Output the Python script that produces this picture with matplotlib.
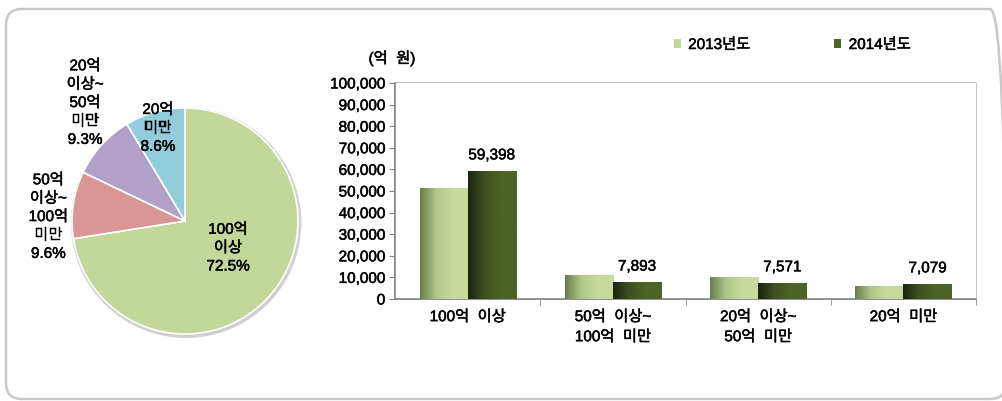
import matplotlib.pyplot as plt
import matplotlib.patheffects as pe
import numpy as np
from matplotlib.colors import LinearSegmentedColormap
from matplotlib.patches import Circle, FancyBboxPatch, Patch
from matplotlib.transforms import IdentityTransform

ARQUIVO = "out.png"

# 매출액 규모별 비중 (2014년도)
PIE_LABELS = ["100억\n이상", "50억\n이상~\n100억\n미만", "20억\n이상~\n50억\n미만", "20억\n미만"]
PIE_PCT = [72.5, 9.6, 9.3, 8.6]
PIE_COLORS = ["#c4d79b", "#da9694", "#b1a0c7", "#92cddc"]

# 매출액 규모별 금액 (억 원)
CATEGORIAS = ["100억  이상", "50억  이상~\n100억  미만", "20억  이상~\n50억  미만", "20억  미만"]
ANOS = ["2013년도", "2014년도"]
VALORES_2013 = [51500, 11000, 10100, 6000]
VALORES_2014 = [59398, 7893, 7571, 7079]

plt.rcParams["font.family"] = ["Liberation Sans", "Noto Sans CJK KR", "DejaVu Sans"]
plt.rcParams["font.size"] = 11
# traço fino para engrossar um pouco o texto
plt.rcParams["path.effects"] = [pe.withStroke(linewidth=0.35, foreground="black")]

fig = plt.figure(figsize=(10.03, 4.01), dpi=100)

# moldura arredondada
moldura = FancyBboxPatch((6, 2), 1000, 390, boxstyle="round,pad=0,rounding_size=16",
                         transform=IdentityTransform(), facecolor="none",
                         edgecolor="#c8c8c8", linewidth=1.8, path_effects=[])
fig.patches.append(moldura)

# ---- pizza ----
ax_pie = fig.add_axes([0.0042, -0.002, 0.3605, 0.9017])
ax_pie.add_patch(Circle((0.01, -0.015), 1.02, facecolor="#d0d0d0", edgecolor="none", zorder=0,
                        path_effects=[]))
fatias, _ = ax_pie.pie(PIE_PCT, colors=PIE_COLORS, startangle=90, counterclock=False, radius=1,
                       wedgeprops=dict(edgecolor="white", linewidth=1.2))
for f in fatias:
    f.set_path_effects([])
ax_pie.set_xlim(-1.6, 1.6)
ax_pie.set_ylim(-1.6, 1.6)
ax_pie.set_aspect("equal")

pos_rotulos = [(0.38, -0.24), (-1.21, 0.035), (-0.885, 1.044), (-0.24, 0.82)]
for (x, y), nome, pct in zip(pos_rotulos, PIE_LABELS, PIE_PCT):
    ax_pie.text(x, y, f"{nome}\n{pct:.1f}%", ha="center", va="center",
                fontsize=11, linespacing=1.4)

# ---- barras ----
ax = fig.add_axes([0.3938, 0.2544, 0.5793, 0.5387])
x = np.arange(len(CATEGORIAS))
largura = 0.331

cmap_2013 = LinearSegmentedColormap.from_list("c13", ["#6a7a50", "#b3c68a", "#c8da9e", "#c8da9e"])
cmap_2014 = LinearSegmentedColormap.from_list("c14", ["#1a240e", "#3f5020", "#4f6228", "#4f6228"])
gradiente = np.linspace(0, 1, 256).reshape(1, -1)

barras_13 = ax.bar(x - largura / 2, VALORES_2013, largura, color="#c4d79b", zorder=2)
barras_14 = ax.bar(x + largura / 2, VALORES_2014, largura, color="#4f6228", zorder=2)

for barras, cmap in [(barras_13, cmap_2013), (barras_14, cmap_2014)]:
    for b in barras:
        b.set_path_effects([])
        x0, w, h = b.get_x(), b.get_width(), b.get_height()
        im = ax.imshow(gradiente, extent=[x0, x0 + w, 0, h], cmap=cmap,
                       aspect="auto", zorder=3)
        im.set_clip_path(b)

for b, v in zip(barras_14, VALORES_2014):
    ax.annotate(f"{v:,}", (b.get_x() + b.get_width() / 2, v), xytext=(0, 6),
                textcoords="offset points", ha="center", va="bottom", fontsize=11)

ax.set_xlim(-0.5, 3.5)
ax.set_ylim(0, 100000)
ax.set_yticks(np.arange(0, 100001, 10000))
ax.set_yticklabels([f"{v:,}" for v in range(0, 100001, 10000)], fontsize=11)
ax.set_xticks(x)
ax.set_xticklabels(CATEGORIAS, fontsize=11, linespacing=1.55)
ax.set_xticks([0.5, 1.5, 2.5, 3.5], minor=True)
ax.tick_params(axis="x", which="major", length=0, pad=8)
ax.tick_params(axis="x", which="minor", length=4, color="#868686")
ax.tick_params(axis="y", length=4, color="#868686", pad=3)
for lado in ["top", "right"]:
    ax.spines[lado].set_visible(False)
for lado in ["left", "bottom"]:
    ax.spines[lado].set_color("#868686")
    ax.spines[lado].set_linewidth(1.2)
    ax.spines[lado].set_path_effects([])
for t in ax.xaxis.get_ticklines(minor=True) + ax.yaxis.get_ticklines():
    t.set_path_effects([])

fig.text(392 / 1003, 1 - 58 / 401, "(억  원)", ha="center", va="center", fontsize=11)

alcas = [Patch(facecolor="#c4d79b"), Patch(facecolor="#4f6228")]
leg = fig.legend(alcas, ANOS, loc="center left", bbox_to_anchor=(666 / 1003, 1 - 45 / 401),
                 ncol=2, frameon=False, borderpad=0, handlelength=0.45, handleheight=0.45,
                 handletextpad=0.5, columnspacing=5.5, fontsize=11)
for h in leg.legend_handles:
    h.set_path_effects([])

fig.savefig(ARQUIVO, dpi=100)
plt.close(fig)
